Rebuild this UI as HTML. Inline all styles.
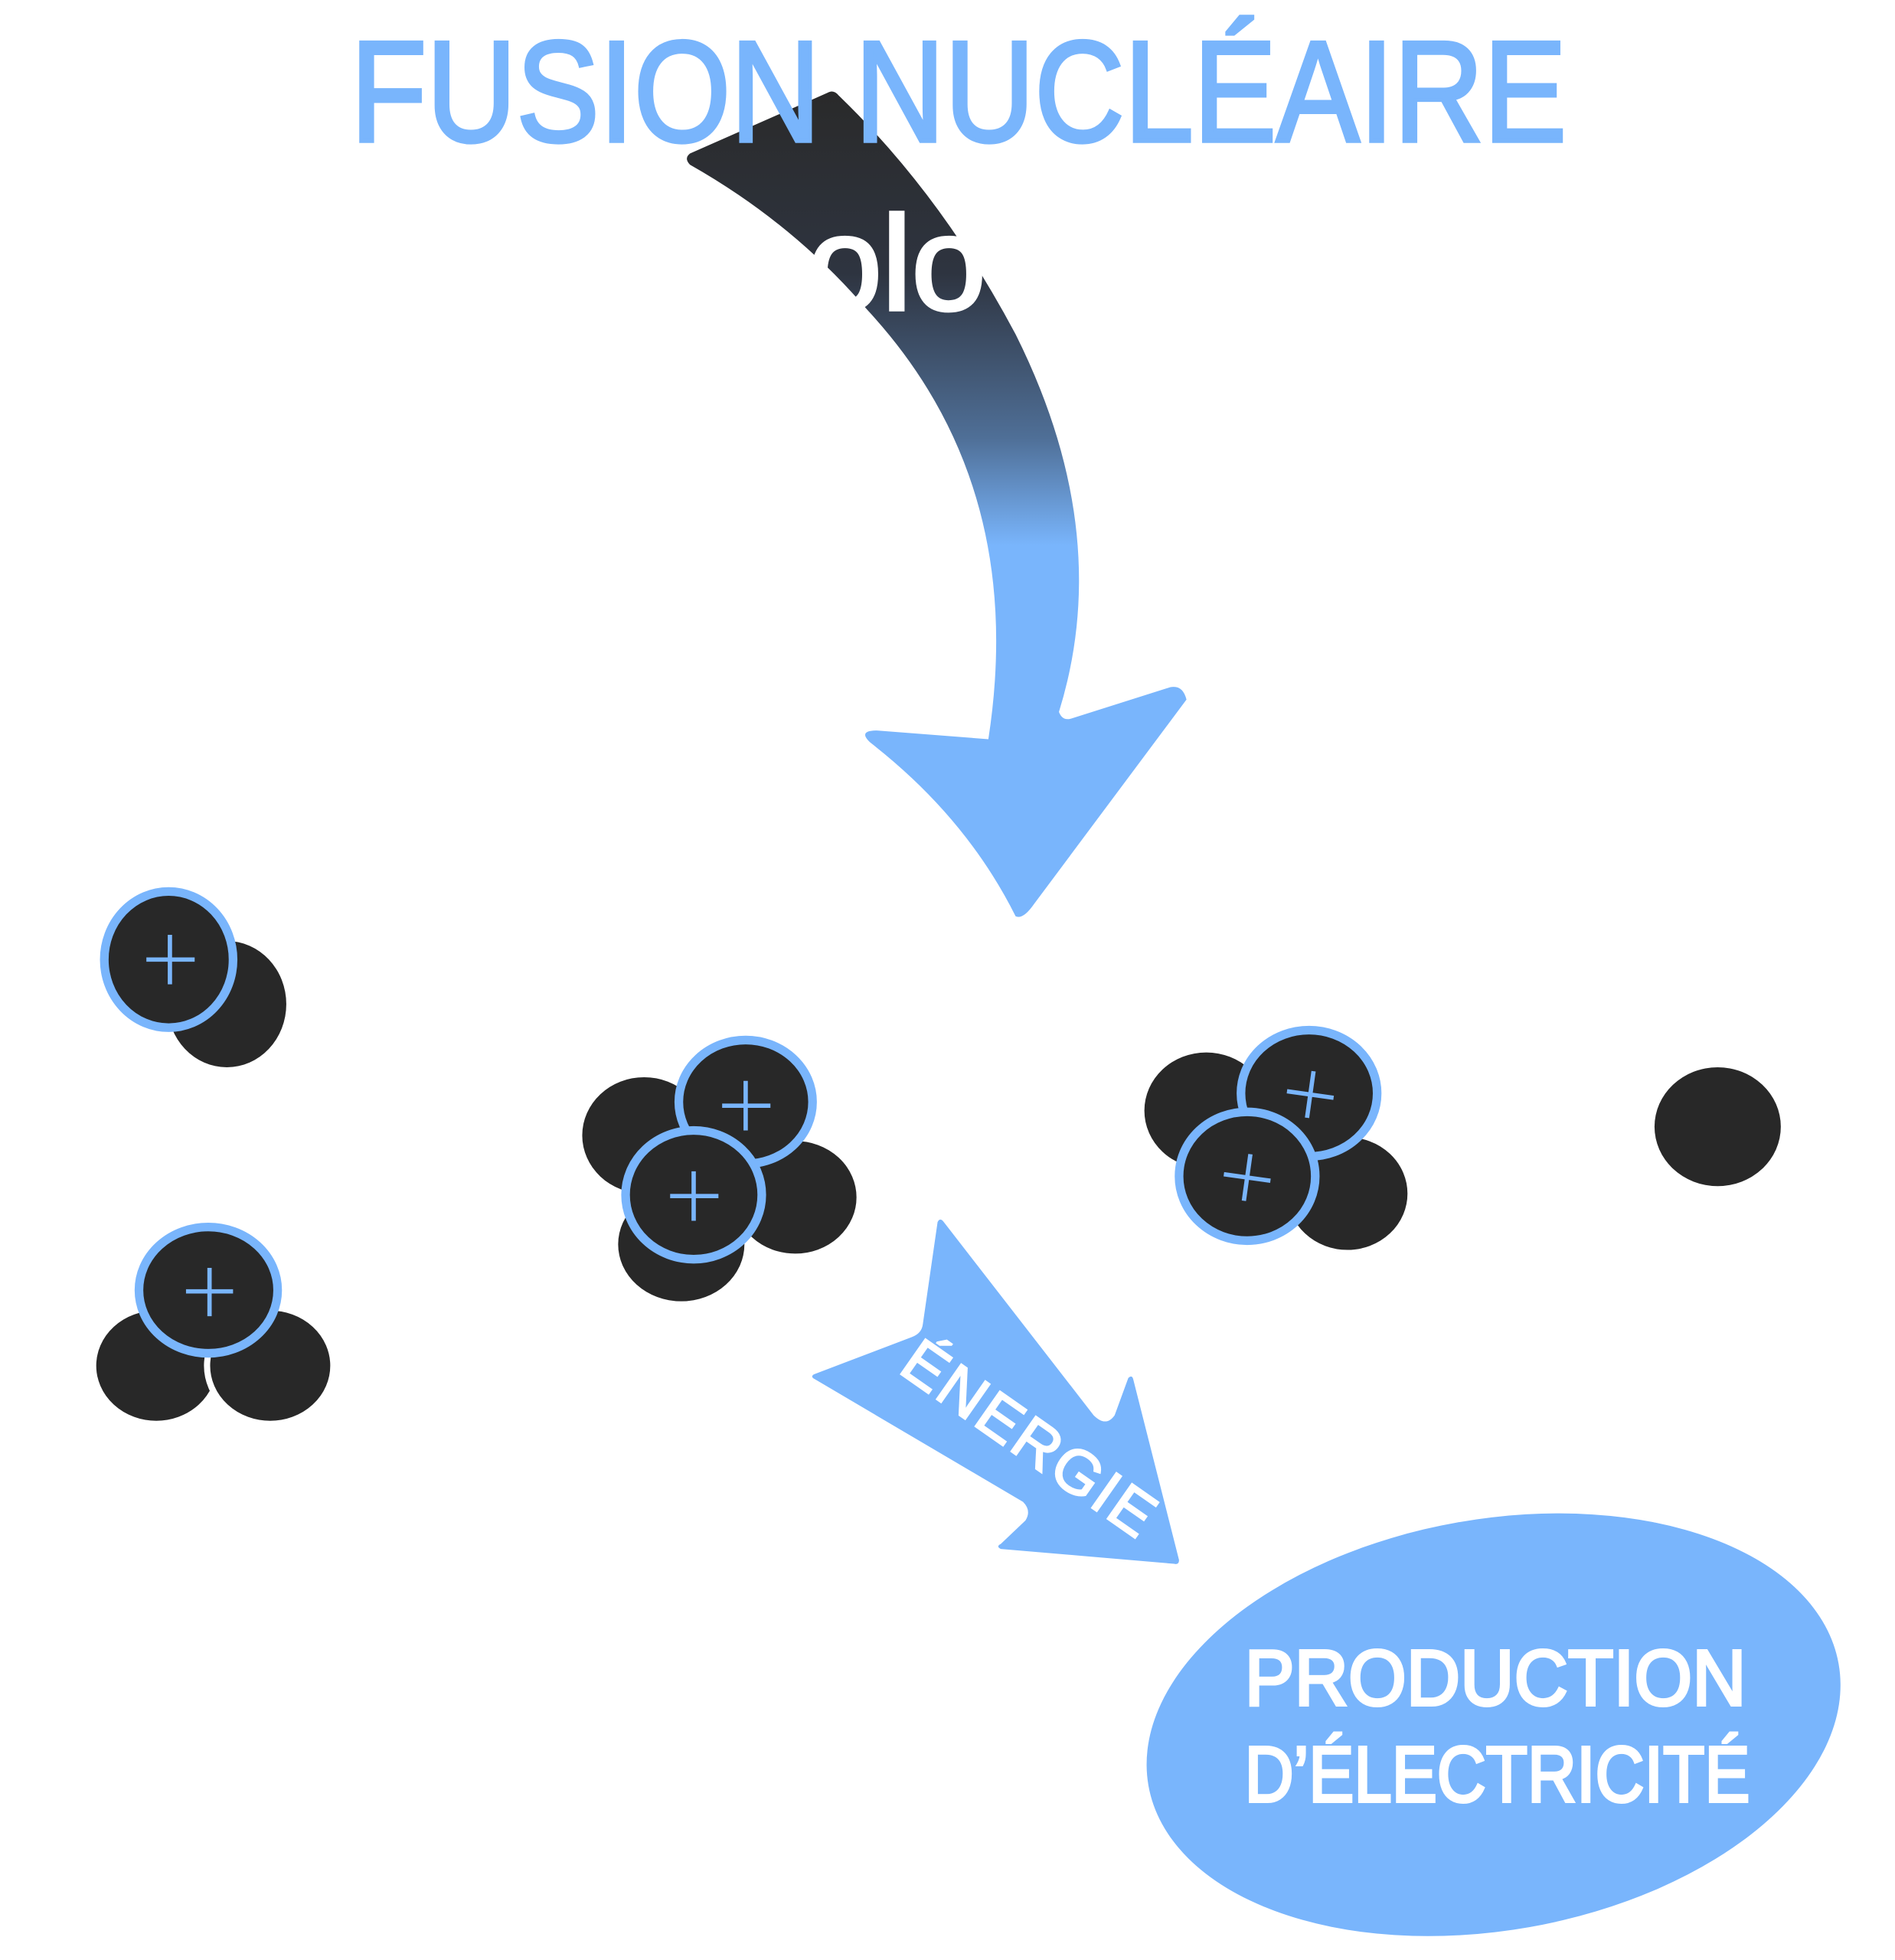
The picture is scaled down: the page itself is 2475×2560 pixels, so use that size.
<!DOCTYPE html>
<html><head><meta charset="utf-8"><style>
html,body{margin:0;padding:0;background:#fff;}
svg{display:block;}
text{font-family:"Liberation Sans",sans-serif;}
</style></head><body>
<svg width="2475" height="2560" viewBox="0 0 1530 1583" xmlns="http://www.w3.org/2000/svg">
<defs>
<linearGradient id="g" x1="0" y1="0" x2="0" y2="1" gradientUnits="objectBoundingBox">
<stop offset="0" stop-color="#2a2a2a"/>
<stop offset="0.22" stop-color="#2e3440"/>
<stop offset="0.42" stop-color="#4f6f97"/>
<stop offset="0.55" stop-color="#79b5fc"/>
<stop offset="1" stop-color="#79b5fc"/>
</linearGradient>
</defs>
<rect width="1530" height="1583" fill="#fff"/>
<path d="M557,124 L668,75 Q673,72 677,77 Q760,157 820,270 Q900,430 855,575 Q858,583 866,580 L945,555 Q955,553 958,565 L835,730 Q826,743 820,740 Q780,660 703,600 Q692,590 708,590 L798,597 Q830,390 700,250 Q640,180 557,133 Q552,128 557,124 Z" fill="url(#g)"/>
<text x="652" y="250" font-size="108" fill="#fff" stroke="#fff" stroke-width="3">olo</text>
<text x="283" y="114" font-size="116" fill="#79b5fc" stroke="#79b5fc" stroke-width="3" textLength="982" lengthAdjust="spacingAndGlyphs">FUSION NUCLÉAIRE</text>

<ellipse cx="183" cy="811" rx="48" ry="51" fill="#282828"/>
<ellipse cx="136" cy="775" rx="52" ry="55" fill="#282828" stroke="#79b5fc" stroke-width="7"/>
<path d="M118,775 H157 M137,755 V795" stroke="#79b5fc" stroke-width="3.5"/>

<ellipse cx="126" cy="1103" rx="51" ry="47" fill="#282828" stroke="#fff" stroke-width="5"/>
<ellipse cx="218" cy="1103" rx="51" ry="47" fill="#282828" stroke="#fff" stroke-width="5"/>
<ellipse cx="168" cy="1042" rx="56" ry="51" fill="#282828" stroke="#79b5fc" stroke-width="7"/>
<path d="M150,1043 H188 M169,1024 V1063" stroke="#79b5fc" stroke-width="3.5"/>

<ellipse cx="520" cy="917" rx="50" ry="47" fill="#282828"/>
<ellipse cx="550" cy="1005" rx="51" ry="46" fill="#282828"/>
<ellipse cx="642" cy="967" rx="52" ry="48" fill="#282828" stroke="#fff" stroke-width="5"/>
<ellipse cx="602" cy="890" rx="54" ry="50" fill="#282828" stroke="#79b5fc" stroke-width="7"/>
<path d="M583,893 H622 M602,873 V913" stroke="#79b5fc" stroke-width="3.5"/>
<ellipse cx="560" cy="965" rx="55" ry="52" fill="#282828" stroke="#79b5fc" stroke-width="7"/>
<path d="M541,966 H580 M560,946 V986" stroke="#79b5fc" stroke-width="3.5"/>

<ellipse cx="974" cy="897" rx="50" ry="47" fill="#282828"/>
<ellipse cx="1088" cy="964" rx="51" ry="48" fill="#282828" stroke="#fff" stroke-width="5"/>
<ellipse cx="1057" cy="883" rx="55" ry="51" fill="#282828" stroke="#79b5fc" stroke-width="7"/>
<g transform="rotate(8 1058 884)"><path d="M1039,884 H1077 M1058,865 V903" stroke="#79b5fc" stroke-width="3.5"/></g>
<ellipse cx="1007" cy="950" rx="55" ry="52" fill="#282828" stroke="#79b5fc" stroke-width="7"/>
<g transform="rotate(8 1007 951)"><path d="M988,951 H1026 M1007,932 V970" stroke="#79b5fc" stroke-width="3.5"/></g>

<ellipse cx="1387" cy="910" rx="51" ry="48" fill="#282828"/>

<path d="M657,1110 L736,1080 Q744,1077 745,1070 L757,987 Q759,983 762,987 L883,1143 Q893,1153 900,1143 L911,1113 Q914,1110 915,1114 L952,1260 Q952,1264 948,1263 L808,1251 Q804,1249 808,1247 L828,1228 Q833,1220 826,1213 L658,1114 Q654,1112 657,1110 Z" fill="#79b5fc"/>
<text x="0" y="0" font-size="50" fill="#fff" stroke="#fff" stroke-width="1.5" letter-spacing="2" text-anchor="middle" transform="translate(822,1176) rotate(35)">ÉNERGIE</text>

<ellipse cx="1206" cy="1393" rx="283" ry="166" transform="rotate(-10 1206 1393)" fill="#79b5fc"/>
<text x="1005" y="1377" font-size="64" fill="#fff" stroke="#fff" stroke-width="2.5" textLength="405" lengthAdjust="spacingAndGlyphs">PRODUCTION</text>
<text x="1005" y="1455" font-size="64" fill="#fff" stroke="#fff" stroke-width="2.5" textLength="408" lengthAdjust="spacingAndGlyphs">D’ÉLECTRICITÉ</text>
</svg>
</body></html>
